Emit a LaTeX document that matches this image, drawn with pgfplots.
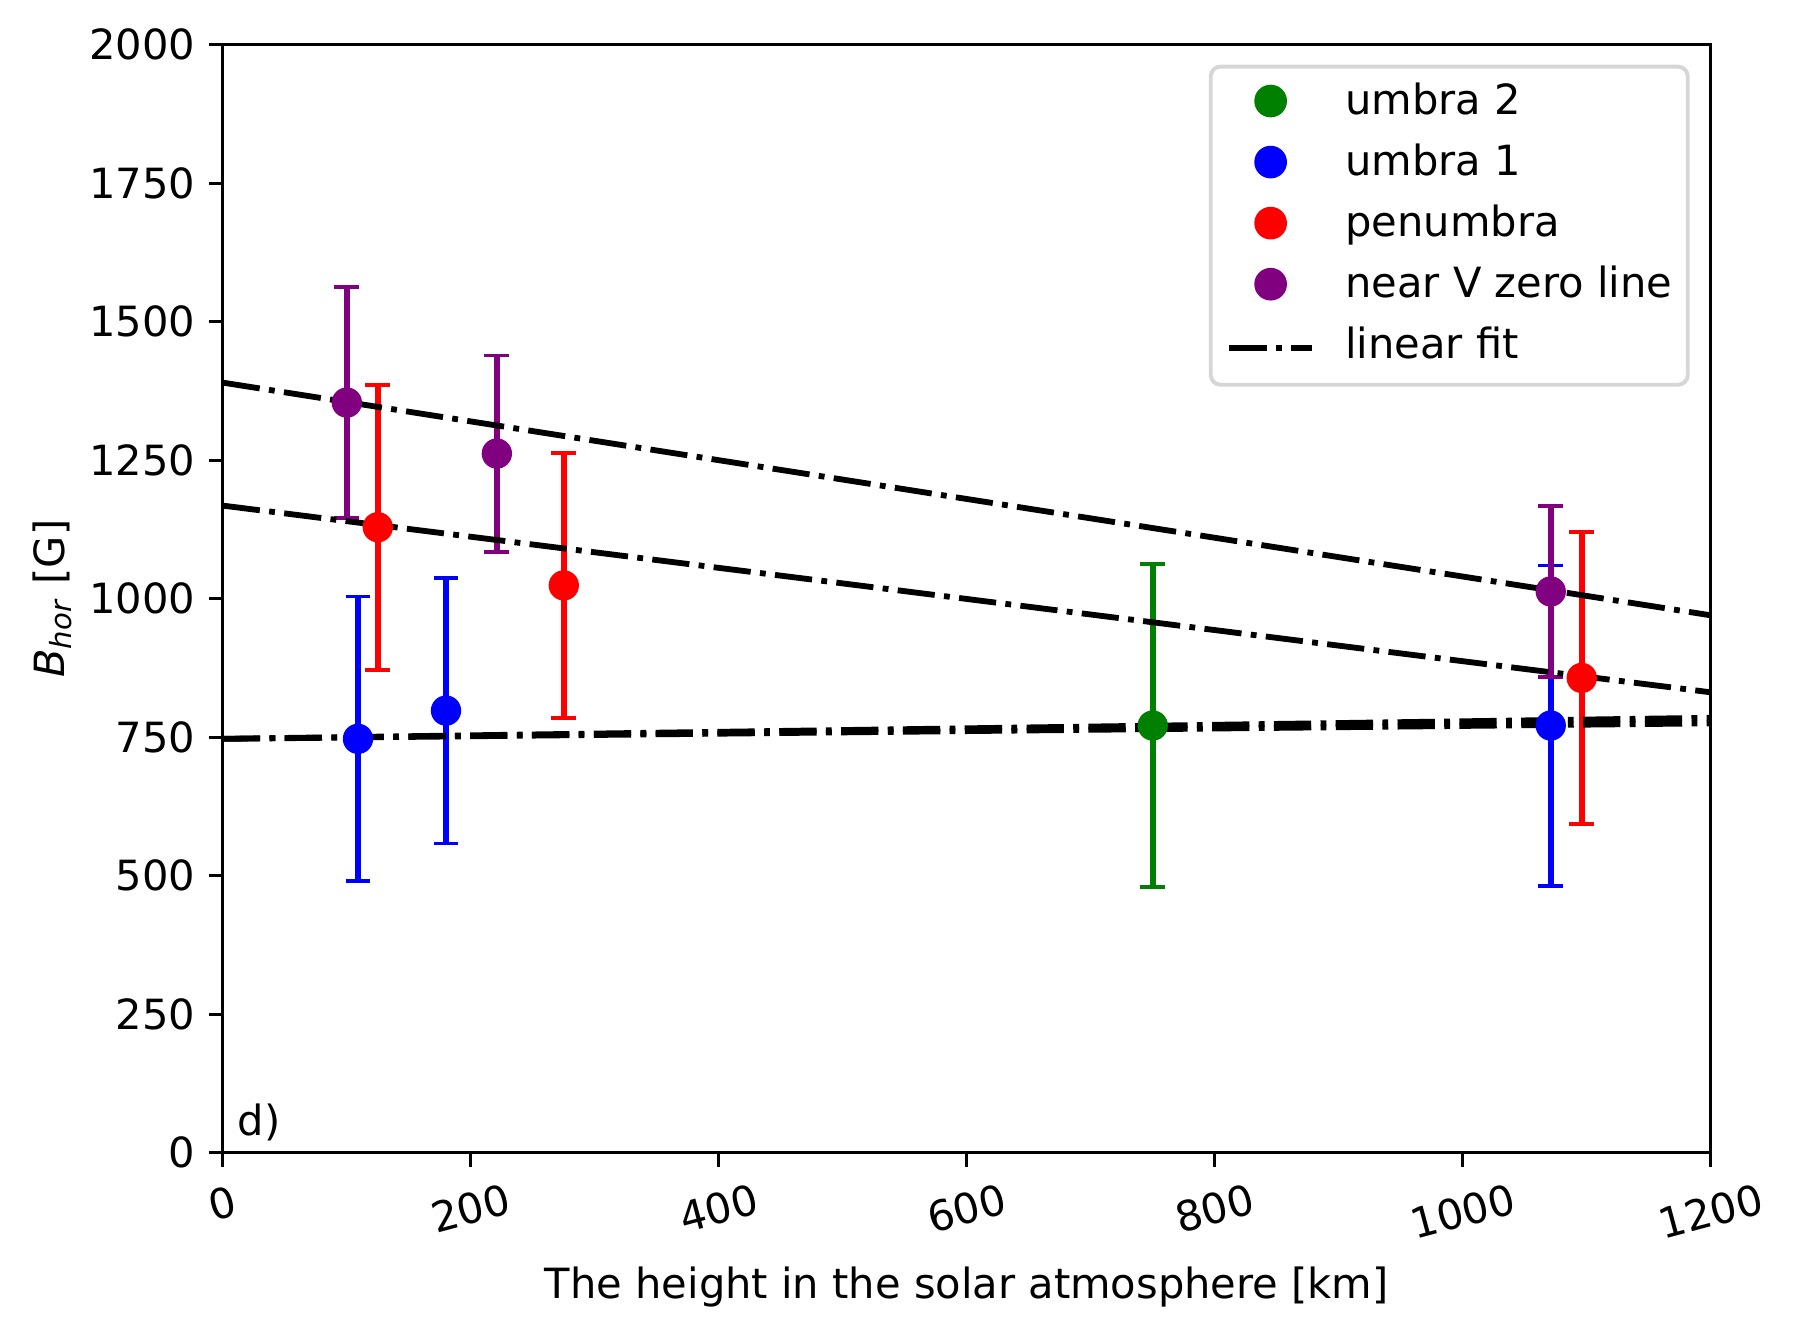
\documentclass[border=0pt]{standalone}
\usepackage{fontspec}
\setmainfont{DejaVu Sans}
\usepackage{pgfplots}
\pgfplotsset{compat=1.18}
\newcommand\ff{\fontsize{10.7}{12.8}\selectfont}
\definecolor{mplgreen}{HTML}{008000}
\definecolor{mplblue}{HTML}{0000FF}
\definecolor{mplred}{HTML}{FF0000}
\definecolor{mplpurple}{HTML}{800080}
\definecolor{legframe}{HTML}{D6D6D6}
\tikzset{fitline/.style={black, line width=1.5pt, dash pattern=on 9.6pt off 2.4pt on 1.5pt off 2.4pt}}
\pgfplotsset{
  ebar/.style={forget plot, draw=none, mark=none, color=#1,
    error bars/.cd, y dir=both, y explicit,
    error bar style={draw=#1, line width=1.5pt, solid},
    error mark options={draw=#1, rotate=90, mark size=3.2pt, line width=1pt, solid}},
  pts/.style={only marks, mark=*, mark size=3.7pt, color=#1, mark options={draw=none, fill=#1}},
}
\begin{document}
\begin{tikzpicture}
\begin{axis}[
  scale only axis, width=382.6pt, height=284.9pt,
  xmin=0, xmax=1200, ymin=0, ymax=2000,
  xtick={0,200,...,1200}, ytick={0,250,...,2000},
  xticklabels={},
  clip=false,
  axis line style={line width=0.8pt},
  tick style={line width=0.8pt, black},
  major tick length=3.6pt, tick align=outside, tick pos=left,
  /pgf/number format/1000 sep={},
  /pgf/number format/assume math mode=true,
  ticklabel style={font=\ff},
  xlabel={The height in the solar atmosphere [km]},
  ylabel={\textit{B}\textsubscript{\textit{hor}} [G]},
  every axis x label/.style={at={(axis description cs:0.5,-0.1209)}, anchor=center, font=\ff},
  every axis y label/.style={at={(axis description cs:-0.1147,0.5)}, anchor=center, rotate=90, font=\ff},
  legend cell align=left,
  legend style={at={(axis description cs:0.9859,0.982)}, anchor=north east,
    draw=legframe, line width=1pt, rounded corners=2.5pt, fill=white,
    inner xsep=4.0pt, inner ysep=3.0pt, column sep=7.8pt, row sep=4pt,
    nodes={inner sep=0pt, text height=9.3pt, text depth=2.4pt},
    font=\ff},
  legend image code/.code={\draw[mark repeat=2,mark phase=2,#1] plot coordinates {(0pt,0pt) (10.65pt,0pt) (21.3pt,0pt)};},
]
% umbra 2
\addplot[ebar=mplgreen] table[x=x, y=y, y error=e] {
x y e
750 771 291
};
\addplot[pts=mplgreen] table[x=x, y=y] {
x y
750 771
};
\addlegendentry{umbra 2}
% umbra 1
\addplot[ebar=mplblue] table[x=x, y=y, y error=e] {
x y e
109 747 257
180 798 240
1071 771 289
};
\addplot[pts=mplblue] table[x=x, y=y] {
x y
109 747
180 798
1071 771
};
\addlegendentry{umbra 1}
% penumbra
\addplot[ebar=mplred] table[x=x, y=y, y error=e] {
x y e
125 1129 257
275 1024 239
1096 857 264
};
\addplot[pts=mplred] table[x=x, y=y] {
x y
125 1129
275 1024
1096 857
};
\addlegendentry{penumbra}
% near V zero line
\addplot[ebar=mplpurple] table[x=x, y=y, y error=e] {
x y e
100 1354 208
221 1262 177
1071 1013 155
};
\addplot[pts=mplpurple] table[x=x, y=y] {
x y
100 1354
221 1262
1071 1013
};
\addlegendentry{near V zero line}
% linear fits
\addplot[fitline] coordinates {(0,747) (1200,785)};
\addlegendentry[text depth=3.7pt]{linear fit}
\addplot[fitline, forget plot] coordinates {(0,747) (1200,775)};
\addplot[fitline, forget plot] coordinates {(0,1168) (1200,831)};
\addplot[fitline, forget plot] coordinates {(0,1390) (1200,970)};
% rotated x tick labels
\node[rotate=15, anchor=center, inner sep=0pt, font=\ff] at ([yshift=-13.1pt]axis cs:0,0) {0};
\node[rotate=15, anchor=center, inner sep=0pt, font=\ff] at ([yshift=-14.4pt]axis cs:200,0) {200};
\node[rotate=15, anchor=center, inner sep=0pt, font=\ff] at ([yshift=-14.4pt]axis cs:400,0) {400};
\node[rotate=15, anchor=center, inner sep=0pt, font=\ff] at ([yshift=-14.4pt]axis cs:600,0) {600};
\node[rotate=15, anchor=center, inner sep=0pt, font=\ff] at ([yshift=-14.4pt]axis cs:800,0) {800};
\node[rotate=15, anchor=center, inner sep=0pt, font=\ff] at ([yshift=-15.1pt]axis cs:1000,0) {1000};
\node[rotate=15, anchor=center, inner sep=0pt, font=\ff] at ([yshift=-15.1pt]axis cs:1200,0) {1200};
\node[anchor=base west, inner sep=0pt, font=\ff] at (axis description cs:0.0096,0.0154) {d)};
\end{axis}
\path (current axis.south west) ++(-57.3pt,-47.1pt) rectangle ++(462.1pt,343.5pt);
\end{tikzpicture}
\end{document}
